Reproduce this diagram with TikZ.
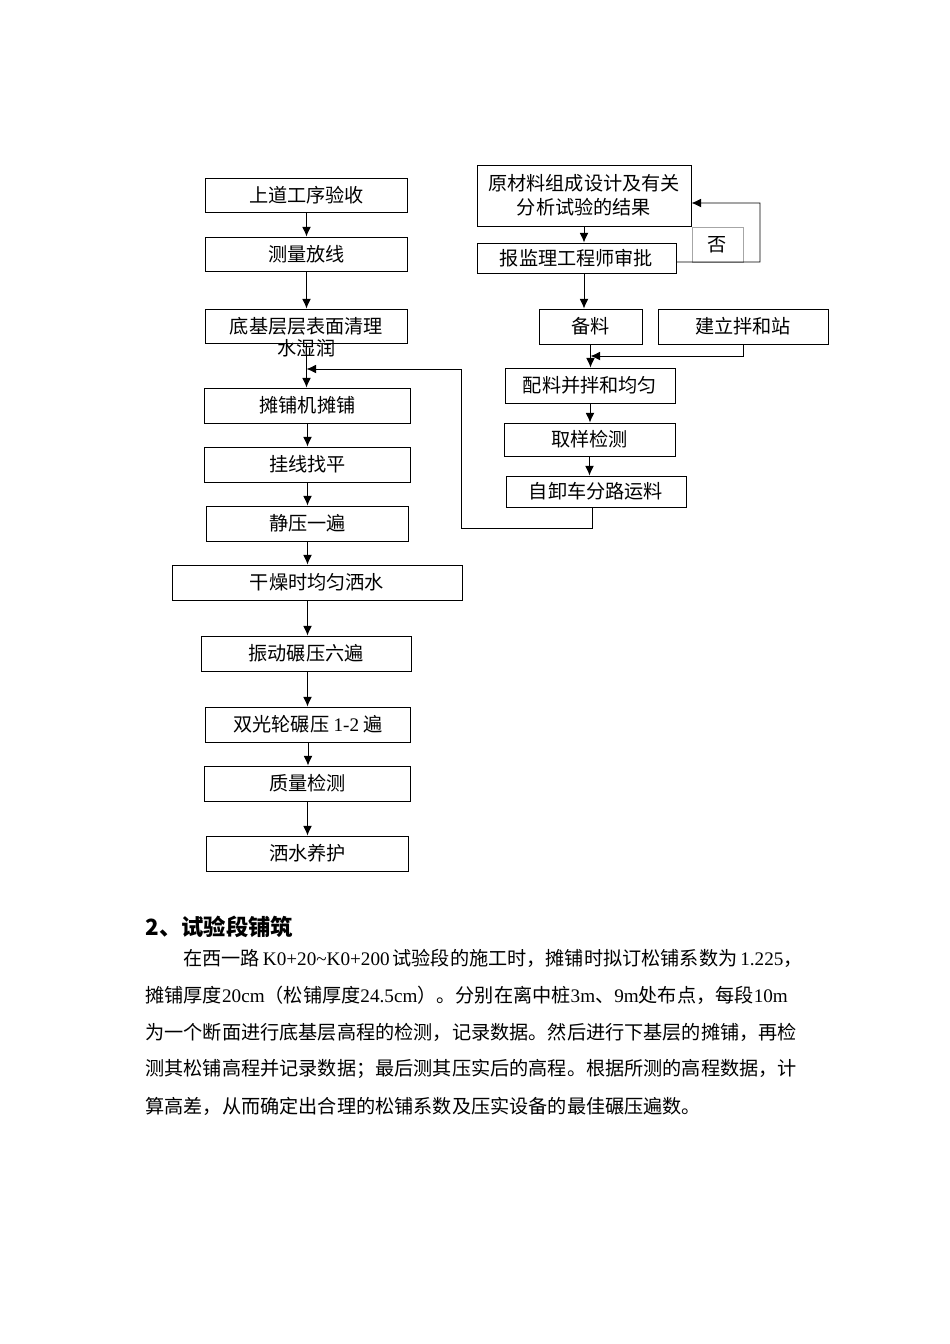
\documentclass[tikz,border=0pt]{standalone}
\usepackage{fontspec}
\setmainfont{Noto Sans CJK SC}
\newfontfamily\latinfont{Liberation Serif}
\usetikzlibrary{arrows.meta}
\XeTeXlinebreaklocale "zh"
\XeTeXlinebreakskip=0pt plus 1pt

\begin{document}
\begin{tikzpicture}[x=0.6263pt,y=-0.6263pt,line width=0.6pt,>={Latex[length=6pt,width=5.5pt]}]
    \tikzstyle{stepbox}=[rectangle, draw, inner sep=0pt, minimum height=21.9pt, font=\fontsize{12pt}{15pt}\selectfont]
    \tikzstyle{para}=[anchor=west, inner sep=0pt, font=\fontsize{12pt}{15pt}\selectfont]

    \useasboundingbox (0,0) rectangle (950,1344);

    \node[stepbox, minimum width=127.1pt, minimum height=21.3pt] (accept) at (306.5,195) {上道工序验收};
    \node[stepbox, minimum width=127.1pt, minimum height=21.3pt] (survey) at (306.5,254) {测量放线};
    \node[stepbox, minimum width=127.1pt, minimum height=21.3pt] (clean)  at (306.5,326) {底基层层表面清理};
    \node[font=\fontsize{12pt}{15pt}\selectfont, inner sep=0pt] (wet) at (306.5,348) {水湿润};
    \node[stepbox, minimum width=129.6pt] (paver)  at (307.5,405.5) {摊铺机摊铺};
    \node[stepbox, minimum width=129.6pt] (level)  at (307.5,464.5) {挂线找平};
    \node[stepbox, minimum width=127.1pt] (static) at (307.5,523.5) {静压一遍};
    \node[stepbox, minimum width=181.6pt] (water)  at (317,582.5) {干燥时均匀洒水};
    \node[stepbox, minimum width=131.5pt] (vibro)  at (306,653.5) {振动碾压六遍};
    \node[stepbox, minimum width=127.8pt] (roller) at (308,724.5) {双光轮碾压 {\latinfont 1-2} 遍};
    \node[stepbox, minimum width=129.6pt] (check)  at (307.5,783.5) {质量检测};
    \node[stepbox, minimum width=127.1pt] (cure)   at (307.5,853.5) {洒水养护};

    \node[stepbox, minimum width=134.0pt, minimum height=38.2pt, align=center] (design) at (584,195.5) {原材料组成设计及有关\\分析试验的结果};
    \node[stepbox, draw=gray!70, line width=0.5pt, minimum width=31.9pt] (no) at (717.5,244.5) {否};
    \node[stepbox, minimum width=124.6pt, minimum height=18.8pt] (approve) at (576.5,258) {报监理工程师审批};
    \node[stepbox, minimum width=64.5pt]  (stock)  at (590.5,326.5) {备料};
    \node[stepbox, minimum width=106.5pt] (plant)  at (743,326.5) {建立拌和站};
    \node[stepbox, minimum width=106.5pt] (mix)    at (590,385.5) {配料并拌和均匀};
    \node[stepbox, minimum width=107.1pt, minimum height=20.7pt] (sample) at (589.5,439.5) {取样检测};
    \node[stepbox, minimum width=112.7pt, minimum height=19.4pt] (truck)  at (596,491.5) {自卸车分路运料};

    \coordinate (entry)  at (306.5,369);
    \coordinate (back)   at (461,528);
    \coordinate (noloop) at (760,203);
    \coordinate (join)   at (590.5,356);

    \draw[->] (accept) -- (accept |- survey.north);
    \draw[->] (survey) -- (survey |- clean.north);
    \draw[->] (clean.south) -- (clean |- paver.north);
    \draw[->] (paver) -- (paver |- level.north);
    \draw[->] (level) -- (level |- static.north);
    \draw[->] (static) -- (static |- water.north);
    \draw[->] (static |- water.south) -- (static |- vibro.north);
    \draw[->] (static |- vibro.south) -- (static |- roller.north);
    \draw[->] (roller) -- (roller |- check.north);
    \draw[->] (check) -- (check |- cure.north);

    \draw[->] (design) -- (design |- approve.north);
    \draw[->] ([yshift=-2.5pt]approve.east) -| (noloop) -- ([yshift=-4.7pt]design.east);
    \draw[->] (design |- approve.south) -- (design |- stock.north);
    \draw[->] (stock) -- (stock |- mix.north);
    \draw[->] (plant) |- (join);
    \draw[->] (mix) -- (mix |- sample.north);
    \draw[->] (sample) -- (sample |- truck.north);
    \draw[->] ([xshift=-2.5pt]truck.south) |- (back) |- (entry);

    \node[anchor=west, inner sep=0pt, font=\fontsize{14pt}{17pt}\selectfont\bfseries] (title) at (145,927) {2、试验段铺筑};
    \node[para] (line1) at (183,958) {\hbox to 385pt{在西一路 {\latinfont K0+20\textasciitilde K0+200} 试验段的施工时，摊铺时拟订松铺系数为 {\latinfont 1.225}，}};
    \node[para] (line2) at (145,995) {\hbox to 409pt{摊铺厚度{\latinfont 20cm}（松铺厚度{\latinfont 24.5cm}）。分别在离中桩{\latinfont 3m}、{\latinfont 9m}处布点，每段{\latinfont 10m}}};
    \node[para] (line3) at (145,1032) {\hbox to 409pt{为一个断面进行底基层高程的检测，记录数据。然后进行下基层的摊铺，再检}};
    \node[para] (line4) at (145,1069) {\hbox to 409pt{测其松铺高程并记录数据；最后测其压实后的高程。根据所测的高程数据，计}};
    \node[para] (line5) at (145,1106) {算高差，从而确定出合理的松铺系数及压实设备的最佳碾压遍数。};
\end{tikzpicture}
\end{document}
